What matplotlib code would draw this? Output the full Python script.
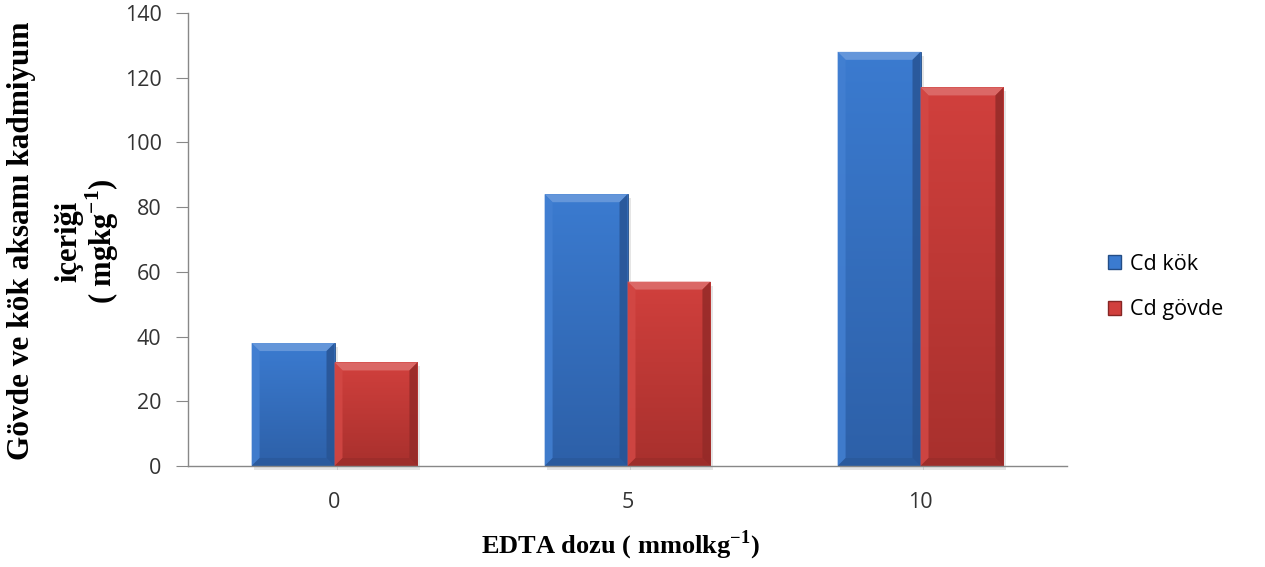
import numpy as np
import matplotlib
matplotlib.use("Agg")
import matplotlib.pyplot as plt
from matplotlib.patches import Polygon, Patch
from matplotlib.colors import to_rgb, LinearSegmentedColormap

plt.rcParams["mathtext.fontset"] = "custom"
plt.rcParams["mathtext.rm"] = "Liberation Serif"
plt.rcParams["mathtext.bf"] = "Liberation Serif:bold"

doses = ["0", "5", "10"]
cd_kok = [38, 84, 128]
cd_govde = [32, 57, 117]
series = ["Cd kök", "Cd gövde"]
colors = ["#3b7bd0", "#d1403d"]
dark = ["#2d60a8", "#a8302d"]

W, H = 1265, 567
fig = plt.figure(figsize=(W / 100, H / 100), dpi=100)
ax = fig.add_axes([188 / W, 1 - 466 / H, (1067 - 188) / W, (466 - 13) / H])

x = np.arange(len(doses))
bw = 0.283
xlim = (-0.5, len(doses) - 0.5)
ylim = (0, 140)

# pixel -> data scale for the bevel edges
px_x = len(doses) / (1067 - 188)
px_y = 140 / (466 - 13)


def shade(c, f):
    r = np.array(to_rgb(c))
    if f > 0:
        return tuple(r + (1 - r) * f)
    return tuple(r * (1 + f))


def bevel(rect, color, dcol, b=8):
    x0, y0 = rect.get_x(), rect.get_y()
    w, h = rect.get_width(), rect.get_height()
    bx, by = b * px_x, b * px_y
    x1, y1 = x0 + w, y0 + h
    # vertical gradient on the front face
    cmap = LinearSegmentedColormap.from_list("g", [dcol, color])
    grad = np.linspace(0, 1, 256).reshape(-1, 1)
    im = ax.imshow(grad, extent=[x0, x1, y0, y1], origin="lower", aspect="auto",
                   cmap=cmap, zorder=2.5, interpolation="bilinear")
    im.set_clip_path(rect)
    # soft drop shadow
    ax.add_patch(Polygon([(x1, y0), (x1 + 3 * px_x, y0), (x1 + 3 * px_x, y1 - 4 * px_y), (x1, y1 - 4 * px_y)],
                         closed=True, facecolor=(0, 0, 0, 0.10), edgecolor="none", zorder=1))
    ax.add_patch(Polygon([(x0 + 2 * px_x, y0 - 4 * px_y), (x1 + 3 * px_x, y0 - 4 * px_y),
                          (x1 + 3 * px_x, y0), (x0 + 2 * px_x, y0)],
                         closed=True, facecolor=(0, 0, 0, 0.10), edgecolor="none", zorder=1,
                         clip_on=False))
    faces = [
        ([(x0, y1), (x1, y1), (x1 - bx, y1 - by), (x0 + bx, y1 - by)], shade(color, 0.25), 0.85),
        ([(x0, y0), (x0, y1), (x0 + bx, y1 - by), (x0 + bx, y0 + by)], shade(color, 0.04), 0.85),
        ([(x1, y0), (x1, y1), (x1 - bx, y1 - by), (x1 - bx, y0 + by)], shade(dcol, -0.12), 0.85),
        ([(x0, y0), (x1, y0), (x1 - bx, y0 + by), (x0 + bx, y0 + by)], shade(dcol, -0.10), 0.6),
    ]
    for pts, fc, a in faces:
        ax.add_patch(Polygon(pts, closed=True, facecolor=fc, edgecolor="none", alpha=a, zorder=3))


for i, (vals, col, dc) in enumerate(zip([cd_kok, cd_govde], colors, dark)):
    bars = ax.bar(x + (i - 0.5) * bw, vals, bw, color=col, edgecolor=shade(dc, -0.2),
                  linewidth=0.6, zorder=2)
    for r in bars:
        bevel(r, col, dc)

ax.set_xlim(*xlim)
ax.set_ylim(*ylim)

for s in ["top", "right"]:
    ax.spines[s].set_visible(False)
for s in ["left", "bottom"]:
    ax.spines[s].set_color("#888888")
    ax.spines[s].set_linewidth(1)
    ax.spines[s].set_zorder(5)

ax.set_yticks(np.arange(0, 141, 20))
ax.set_xticks(x)
ax.set_xticklabels(doses)
ax.tick_params(axis="y", direction="out", length=9, color="#888888", pad=10,
               labelsize=15.5, labelcolor="#333333")
ax.tick_params(axis="x", length=0, pad=19, labelsize=15.5, labelcolor="#333333")
for lab in ax.get_xticklabels() + ax.get_yticklabels():
    lab.set_family("Open Sans")

serif = "Liberation Serif"
ylines = [("Gövde ve kök aksamı kadmiyum", 22, 22.5), ("içeriği", 69, 22), ("( mgkg$^{\\mathbf{-1}}$)", 102, 22)]
for txt, xc, fs in ylines:
    fig.text(xc / W, 1 - 241 / H, txt, rotation=90, ha="center", va="center",
             family=serif, weight="bold", fontsize=fs)
fig.text(620 / W, 1 - 545 / H, "EDTA dozu ( mmolkg$^{\\mathbf{-1}}$)", ha="center", va="center",
         family=serif, weight="bold", fontsize=19)

handles = [Patch(facecolor=c, edgecolor=shade(d, -0.2), label=l) for c, d, l in zip(colors, dark, series)]
fig.legend(handles=handles, loc="center left", bbox_to_anchor=(1108 / W, 1 - 287 / H),
           frameon=False, prop={"family": "Open Sans", "size": 15.5}, handlelength=0.6,
           handleheight=0.6, handletextpad=0.4, labelspacing=1.15, borderpad=0, borderaxespad=0)

fig.savefig("out.png", dpi=100)
